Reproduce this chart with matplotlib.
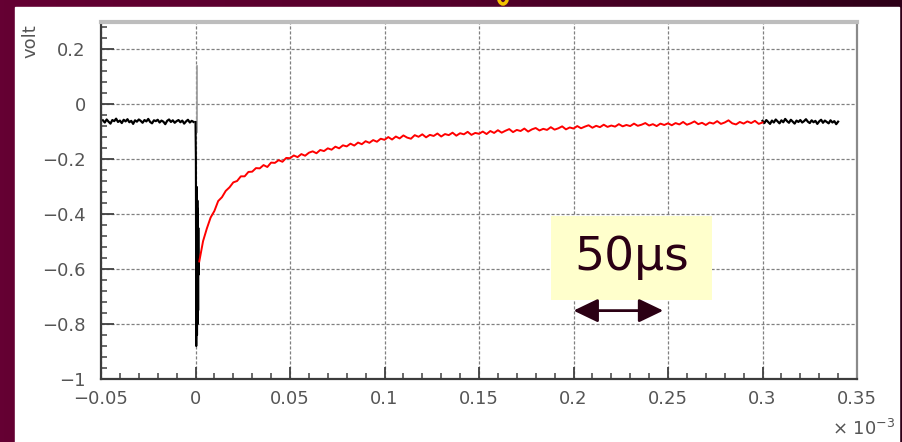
import numpy as np
import matplotlib.pyplot as plt
from matplotlib.colors import LinearSegmentedColormap
from matplotlib.patches import Rectangle, FancyArrowPatch, Arc

# scope trace, volts vs time (x 1e-3 s)
pre_v = [-0.058, -0.066, -0.055, -0.063, -0.070, -0.057, -0.061, -0.052, -0.064, -0.059,
         -0.068, -0.056, -0.062, -0.054, -0.065, -0.060, -0.071, -0.058, -0.063, -0.055,
         -0.060, -0.067, -0.057, -0.062, -0.053, -0.064, -0.069, -0.058, -0.061, -0.056,
         -0.066, -0.059, -0.063, -0.072, -0.060, -0.055, -0.064, -0.058, -0.067, -0.061,
         -0.057, -0.065, -0.059, -0.070, -0.062, -0.056, -0.066, -0.060, -0.064]
pre_start, pre_step = -0.049, 0.001

spike_t = [0.0, 0.0002, 0.0004, 0.0006, 0.0008, 0.0010, 0.0011, 0.0012, 0.0014, 0.0015, 0.0016, 0.0018]
spike_v = [-0.064, -0.20, -0.88, -0.30, -0.84, -0.35, -0.80, -0.38, -0.75, -0.45, -0.62, -0.57]
glitch_t = [0.0008, 0.0008]
glitch_v = [0.14, -0.10]

fit_v = [-0.572, -0.498, -0.452, -0.412, -0.388, -0.352, -0.338, -0.315, -0.302, -0.284,
         -0.279, -0.262, -0.262, -0.246, -0.245, -0.232, -0.233, -0.221, -0.228, -0.212,
         -0.213, -0.203, -0.209, -0.195, -0.196,
         -0.186, -0.192, -0.181, -0.187, -0.176, -0.171, -0.178, -0.166, -0.170, -0.160,
         -0.165, -0.154, -0.160, -0.149, -0.153, -0.143, -0.150, -0.139, -0.145, -0.134,
         -0.140, -0.130, -0.136, -0.125, -0.129,
         -0.119, -0.128, -0.117, -0.124, -0.113, -0.121, -0.125, -0.112, -0.118, -0.109,
         -0.120, -0.111, -0.115, -0.106, -0.117, -0.108, -0.112, -0.103, -0.114, -0.105,
         -0.109, -0.100, -0.111, -0.104, -0.107,
         -0.099, -0.108, -0.097, -0.104, -0.094, -0.103, -0.096, -0.090, -0.101, -0.093,
         -0.097, -0.088, -0.099, -0.091, -0.086, -0.095, -0.089, -0.093, -0.083, -0.092,
         -0.087, -0.080, -0.091, -0.084, -0.088,
         -0.079, -0.087, -0.081, -0.076, -0.085, -0.078, -0.083, -0.074, -0.082, -0.077,
         -0.081, -0.072, -0.080, -0.075, -0.079, -0.070, -0.078, -0.074, -0.068, -0.077,
         -0.072, -0.079, -0.070, -0.075, -0.069,
         -0.076, -0.068, -0.073, -0.064, -0.074, -0.069, -0.062, -0.072, -0.067, -0.075,
         -0.066, -0.070, -0.061, -0.071, -0.066, -0.058, -0.069, -0.073, -0.064, -0.070,
         -0.062, -0.068, -0.060, -0.071, -0.066]
fit_step = 0.002

post_v = [-0.060, -0.068, -0.057, -0.064, -0.071, -0.059, -0.066, -0.055, -0.062, -0.069,
          -0.058, -0.065, -0.053, -0.061, -0.067, -0.056, -0.063, -0.070, -0.059, -0.064,
          -0.057, -0.066, -0.061, -0.054, -0.063, -0.068, -0.058, -0.065, -0.060, -0.071,
          -0.062, -0.056, -0.067, -0.059, -0.064, -0.069, -0.058, -0.066, -0.061, -0.072, -0.063]
post_start, post_step = 0.300, 0.001

xticks = [-0.05, 0, 0.05, 0.1, 0.15, 0.2, 0.25, 0.3, 0.35]
xlabels = ["\u22120.05", "0", "0.05", "0.1", "0.15", "0.2", "0.25", "0.3", "0.35"]
yticks = [-1, -0.8, -0.6, -0.4, -0.2, 0, 0.2]
ylabels = ["\u22121", "\u22120.8", "\u22120.6", "\u22120.4", "\u22120.2", "0", "0.2"]

scale_label = "50\u03bcs"
scale_from, scale_to, scale_y = 0.2, 0.2475, -0.751

pre_t = pre_start + pre_step * np.arange(len(pre_v))
fit_t = fit_step * np.arange(1, len(fit_v) + 1)
post_t = post_start + post_step * np.arange(len(post_v))

plt.rcParams['font.family'] = ['DejaVu Sans']

fig = plt.figure(figsize=(9.02, 4.42), dpi=100)

# maroon slide background + white panel
bg = fig.add_axes([0, 0, 1, 1])
grad = np.linspace(0, 1, 256).reshape(1, -1)
cmap = LinearSegmentedColormap.from_list("slide", ["#650033", "#55002b", "#2e0018"])
bg.imshow(grad, aspect="auto", cmap=cmap, extent=[0, 902, 0, 442])
bg.add_patch(Rectangle((15, 0), 884, 435, color="white", zorder=2))
# bottom of a cut-off title glyph
bg.add_patch(Arc((503, 445), 9, 14, theta1=180, theta2=360, color="#f2c200",
                 lw=2.5, zorder=3))
bg.set_xlim(0, 902)
bg.set_ylim(0, 442)
bg.axis("off")

ax = fig.add_axes([101 / 902, 63 / 442, 756 / 902, 357 / 442])
ax.set_facecolor("white")

ax.plot(pre_t, pre_v, color="black", lw=1.6)
ax.plot(post_t, post_v, color="black", lw=1.6)
ax.plot(glitch_t, glitch_v, color="#9a9a9a", lw=1.2)
ax.plot(spike_t, spike_v, color="black", lw=1.5)
ax.plot(fit_t, fit_v, color="red", lw=1.4)

ax.set_xlim(-0.05, 0.35)
ax.set_ylim(-1, 0.3)
ax.set_xticks(xticks)
ax.set_xticklabels(xlabels)
ax.set_yticks(yticks)
ax.set_yticklabels(ylabels)
ax.set_xticks(np.arange(-0.05, 0.35, 0.01), minor=True)
ax.set_yticks(np.arange(-1, 0.3, 0.04), minor=True)

ax.tick_params(which="both", direction="in", colors="#404040", labelcolor="#555555",
               labelsize=13)
ax.tick_params(which="major", length=9, width=1.3)
ax.tick_params(which="minor", length=4.5, width=1.1)
ax.tick_params(axis="x", pad=8)
ax.tick_params(axis="y", pad=11)

ax.grid(True, which="major", color="#808080", lw=0.9, ls=(0, (2.5, 1.5)))
ax.set_axisbelow(True)

ax.spines["top"].set_color("#bdbdbd")
ax.spines["top"].set_linewidth(3)
ax.spines["right"].set_color("#8a8a8a")
ax.spines["right"].set_linewidth(1.6)
for s in ["left", "bottom"]:
    ax.spines[s].set_color("#3c3c3c")
    ax.spines[s].set_linewidth(1.6)

fig.text(30 / 902, 1 - 41 / 442, "volt", rotation=90, ha="center", va="center",
         color="#555555", fontsize=13)
fig.text(832 / 902, 1 - 429 / 442, "\u00d7 10$^{-3}$", ha="left", va="center",
         color="#555555", fontsize=13)

# 50 us scale marker
ax.add_patch(Rectangle((0.188, -0.711), 0.0853, 0.304, facecolor="#ffffcc",
                       edgecolor="none", zorder=5))
ax.text(0.2307, -0.559, scale_label, ha="center", va="center", fontsize=34,
        color="#2b0014", zorder=6)
ax.add_patch(FancyArrowPatch((scale_from, scale_y), (scale_to, scale_y),
                             arrowstyle="<|-|>,head_length=0.75,head_width=0.36",
                             mutation_scale=20, lw=2, color="#2b0014",
                             shrinkA=0, shrinkB=0, zorder=6))

fig.savefig("out.png", dpi=100)
